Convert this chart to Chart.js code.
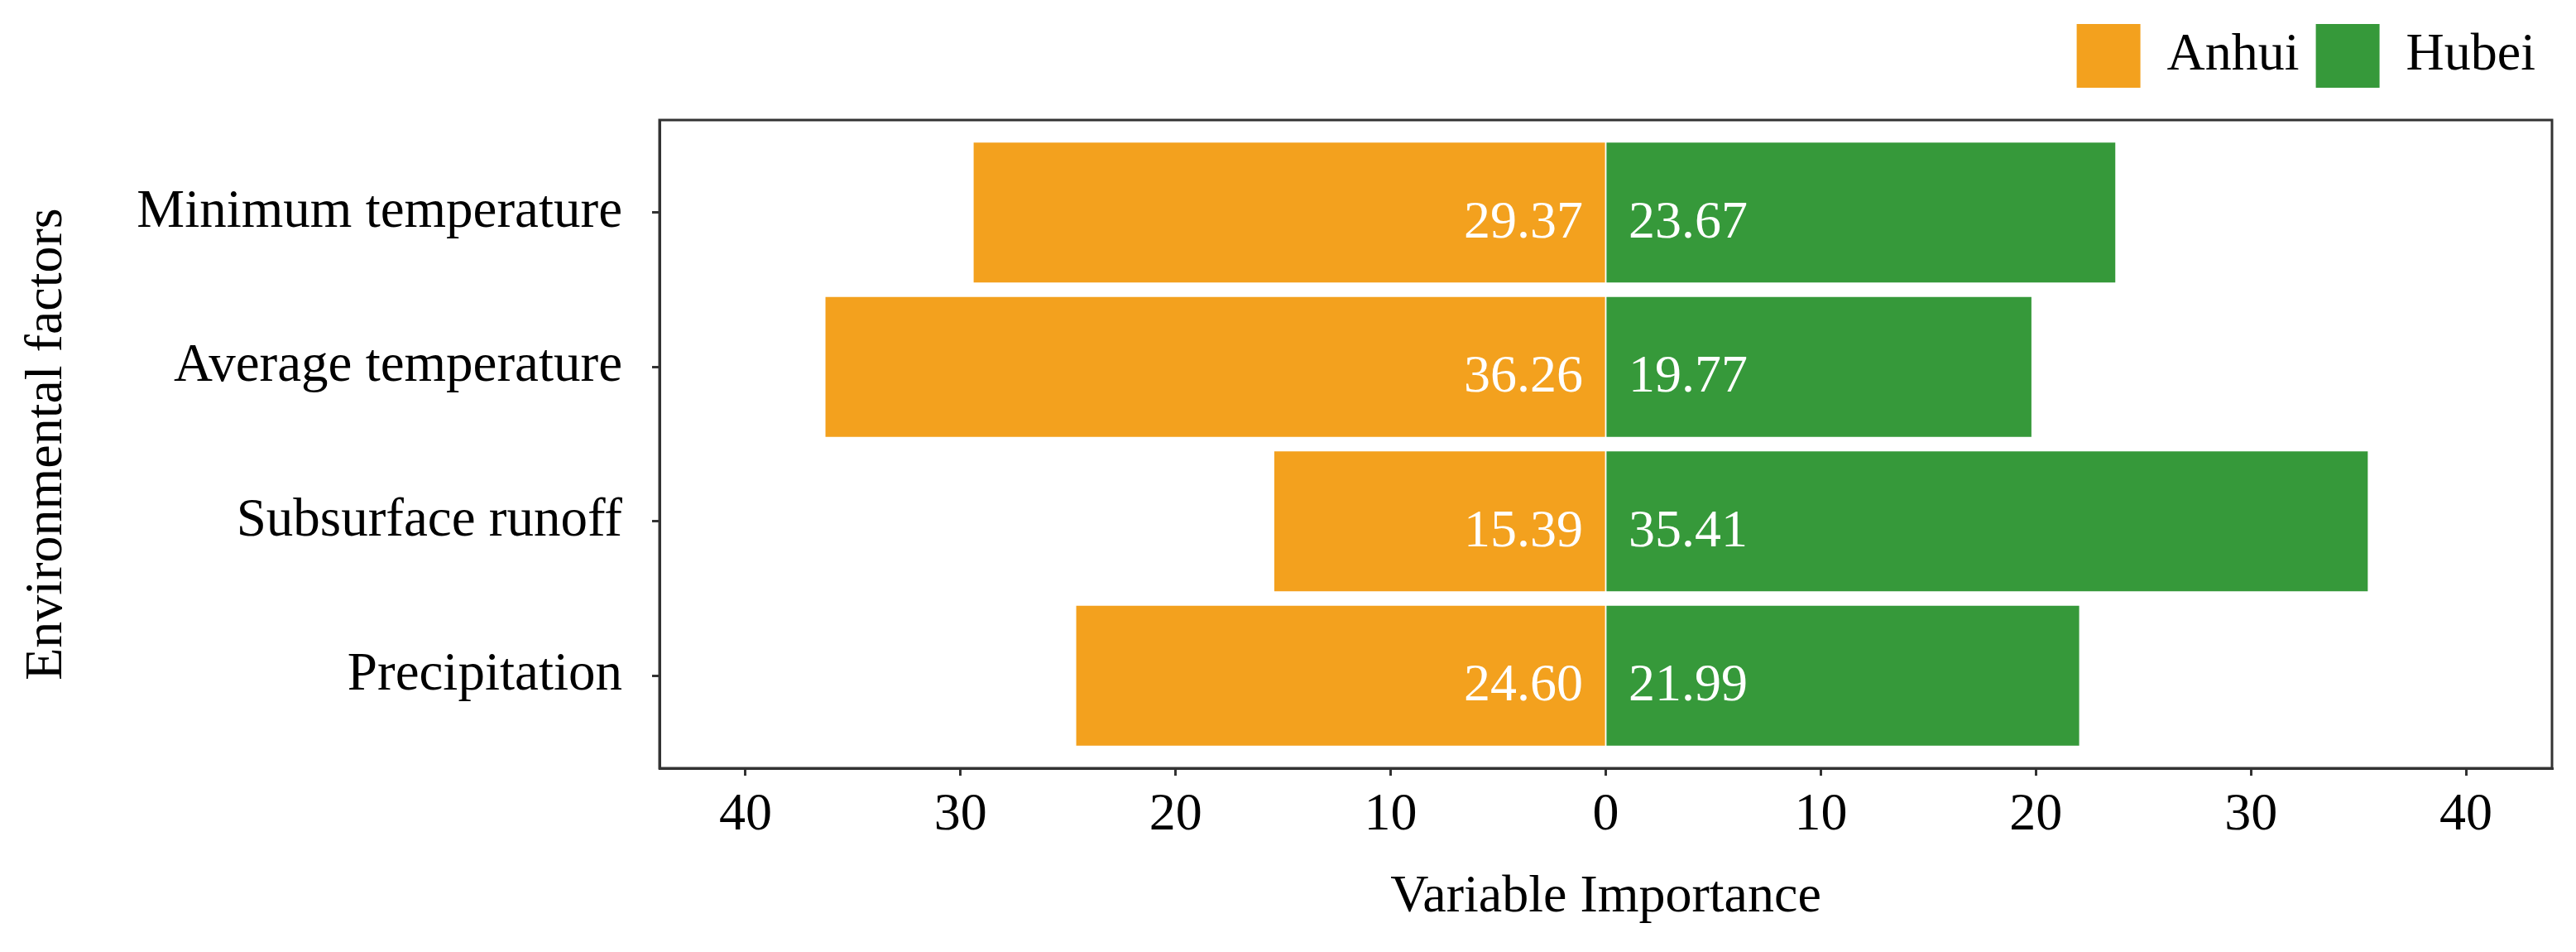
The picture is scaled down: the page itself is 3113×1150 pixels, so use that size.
<!DOCTYPE html>
<html>
<head>
<meta charset="utf-8">
<script src="https://cdn.jsdelivr.net/npm/chart.js@4.4.0/dist/chart.umd.min.js"></script>
<style>
  html, body { margin: 0; padding: 0; background: #fff; }
  #wrap { width: 3113px; height: 1150px; }
</style>
</head>
<body>
<div id="wrap"><canvas id="chart"></canvas></div>
<script>
// Importancia de variables: Anhui (izquierda) vs Hubei (derecha)
const factors = ['Minimum temperature', 'Average temperature', 'Subsurface runoff', 'Precipitation'];
const anhui = [29.37, 36.26, 15.39, 24.60];
const hubei = [23.67, 19.77, 35.41, 21.99];
const xTicks = [-40, -30, -20, -10, 0, 10, 20, 30, 40];

const ORANGE = '#F3A11E';
const GREEN = '#36993A';
const AXIS = '#333333';
const FONT = "'Liberation Serif', 'Times New Roman', serif";

Chart.defaults.font.family = FONT;
Chart.defaults.color = '#000';

// espacio extra debajo de la leyenda
const legendMargin = {
    id: 'legendMargin',
    beforeInit(chart) {
        if (!chart.legend) return;
        const fitValue = chart.legend.fit;
        chart.legend.fit = function fit() {
            fitValue.bind(chart.legend)();
            this.height += 29;
        };
    }
};

// marco completo alrededor del area de la grafica
const frame = {
    id: 'frame',
    afterDraw(chart) {
        const {ctx, chartArea: {left, top, right, bottom}} = chart;
        ctx.save();
        ctx.strokeStyle = AXIS;
        ctx.lineWidth = 3;
        ctx.strokeRect(left, top, right - left, bottom - top);
        ctx.restore();
    }
};

// etiquetas blancas junto al cero
const barLabels = {
    id: 'barLabels',
    afterDatasetsDraw(chart) {
        const ctx = chart.ctx;
        ctx.save();
        ctx.font = '64px ' + FONT;
        ctx.fillStyle = '#fff';
        ctx.textBaseline = 'alphabetic';
        [anhui, hubei].forEach((values, di) => {
            const meta = chart.getDatasetMeta(di);
            meta.data.forEach((bar, i) => {
                const toLeft = bar.x < bar.base;
                ctx.textAlign = toLeft ? 'right' : 'left';
                ctx.fillText(values[i].toFixed(2), bar.base + (toLeft ? -26 : 26), bar.y + 30);
            });
        });
        ctx.restore();
    }
};

const ctx = document.getElementById('chart');
new Chart(ctx, {
    type: 'bar',
    data: {
        datasets: [
            {
                label: 'Anhui',
                data: anhui.map((v, i) => ({x: -v, y: i})),
                backgroundColor: ORANGE,
                borderWidth: 0,
                inflateAmount: 0.6,
                barPercentage: 0.9,
                categoryPercentage: 1.0
            },
            {
                label: 'Hubei',
                data: hubei.map((v, i) => ({x: v, y: i})),
                backgroundColor: GREEN,
                borderWidth: 0,
                inflateAmount: 0.6,
                barPercentage: 0.9,
                categoryPercentage: 1.0
            }
        ]
    },
    options: {
        indexAxis: 'y',
        responsive: true,
        maintainAspectRatio: false,
        animation: false,
        events: [],
        layout: {
            padding: {top: 9, right: 29, bottom: 0, left: 0}
        },
        plugins: {
            legend: {
                position: 'top',
                align: 'end',
                labels: {
                    boxWidth: 77,
                    boxHeight: 77,
                    padding: 20,
                    color: '#000',
                    font: {size: 64}
                }
            },
            tooltip: {enabled: false}
        },
        scales: {
            x: {
                type: 'linear',
                stacked: true,
                min: -44,
                max: 44,
                afterBuildTicks: axis => { axis.ticks = xTicks.map(v => ({value: v})); },
                afterFit: axis => { axis.height = 222; },
                ticks: {
                    callback: v => Math.abs(v),
                    font: {size: 64},
                    color: '#000',
                    padding: 10
                },
                grid: {
                    drawOnChartArea: false,
                    drawTicks: true,
                    tickLength: 9,
                    color: AXIS,
                    lineWidth: 3
                },
                border: {display: true, color: AXIS, width: 3},
                title: {
                    display: true,
                    text: 'Variable Importance',
                    font: {size: 64},
                    color: '#000',
                    padding: {top: 23, bottom: 27}
                }
            },
            y: {
                type: 'linear',
                stacked: true,
                reverse: true,
                offset: false,
                min: -0.6,
                max: 3.6,
                afterBuildTicks: axis => { axis.ticks = factors.map((c, i) => ({value: i})); },
                afterFit: axis => { axis.width = 797; },
                ticks: {
                    callback: v => factors[v],
                    font: {size: 65},
                    color: '#000',
                    padding: 36
                },
                grid: {
                    offset: false,
                    drawOnChartArea: false,
                    drawTicks: true,
                    tickLength: 9,
                    color: AXIS,
                    lineWidth: 3
                },
                border: {display: true, color: AXIS, width: 3},
                title: {
                    display: true,
                    text: 'Environmental factors',
                    font: {size: 64},
                    color: '#000',
                    padding: {top: 19, bottom: 20}
                }
            }
        }
    },
    plugins: [legendMargin, barLabels, frame]
});
</script>
</body>
</html>
